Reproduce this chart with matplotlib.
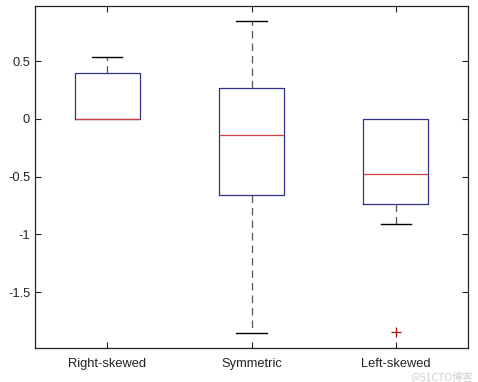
import matplotlib
matplotlib.use("Agg")
import matplotlib.pyplot as plt

categories = ["Right-skewed", "Symmetric", "Left-skewed"]
whislo = [0.0, -1.853, -0.909]
q1 = [0.0, -0.658, -0.736]
med = [0.0, -0.139, -0.476]
q3 = [0.40, 0.268, 0.0]
whishi = [0.537, 0.848, 0.0]
fliers = [[], [], [-1.844]]
yticks = [-1.5, -1, -0.5, 0, 0.5]
yticklabels = ["-1.5", "-1", "-0.5", "0", "0.5"]

plt.rcParams['font.family'] = ['Liberation Sans', 'DejaVu Sans']
fig = plt.figure(figsize=(4.78, 3.82), dpi=100)
ax = fig.add_axes([0.0732, 0.089, 0.906, 0.895])

stats = []
for i, c in enumerate(categories):
    stats.append(dict(label=c, whislo=whislo[i], q1=q1[i], med=med[i],
                      q3=q3[i], whishi=whishi[i], fliers=fliers[i]))

art = ax.bxp(stats, positions=[1, 2, 3], widths=0.45, showfliers=True,
             boxprops=dict(color='#30308f', linewidth=0.9),
             medianprops=dict(color='#d04040', linewidth=0.9),
             whiskerprops=dict(color='#555555', linewidth=0.9, linestyle=(0, (6, 4))),
             capprops=dict(color='black', linewidth=1.0),
             capwidths=0.21,
             flierprops=dict(marker='+', markeredgecolor='#a01010', markersize=7,
                             markeredgewidth=0.9, linestyle='none'))

# hide caps of zero-length whiskers
for i in range(len(categories)):
    if whislo[i] == q1[i]:
        art['caps'][2 * i].set_visible(False)
    if whishi[i] == q3[i]:
        art['caps'][2 * i + 1].set_visible(False)

ax.set_xlim(0.5, 3.5)
ax.set_ylim(-1.985, 0.978)
ax.set_yticks(yticks)
ax.set_yticklabels(yticklabels)
ax.set_xticks([1, 2, 3])
ax.set_xticklabels(categories)
ax.tick_params(direction='in', top=True, right=True, length=4, width=0.8,
               labelsize=9.3, colors='#222222')
ax.tick_params(axis='x', pad=7)
for s in ax.spines.values():
    s.set_linewidth(0.9)
    s.set_color('#222222')

fig.text(0.99, 0.0, "@51CTO博客", ha='right', va='bottom', fontsize=7.5,
         color='#d0d0d0', family=['Noto Sans CJK SC', 'DejaVu Sans'])

fig.savefig("out.png", dpi=100)
